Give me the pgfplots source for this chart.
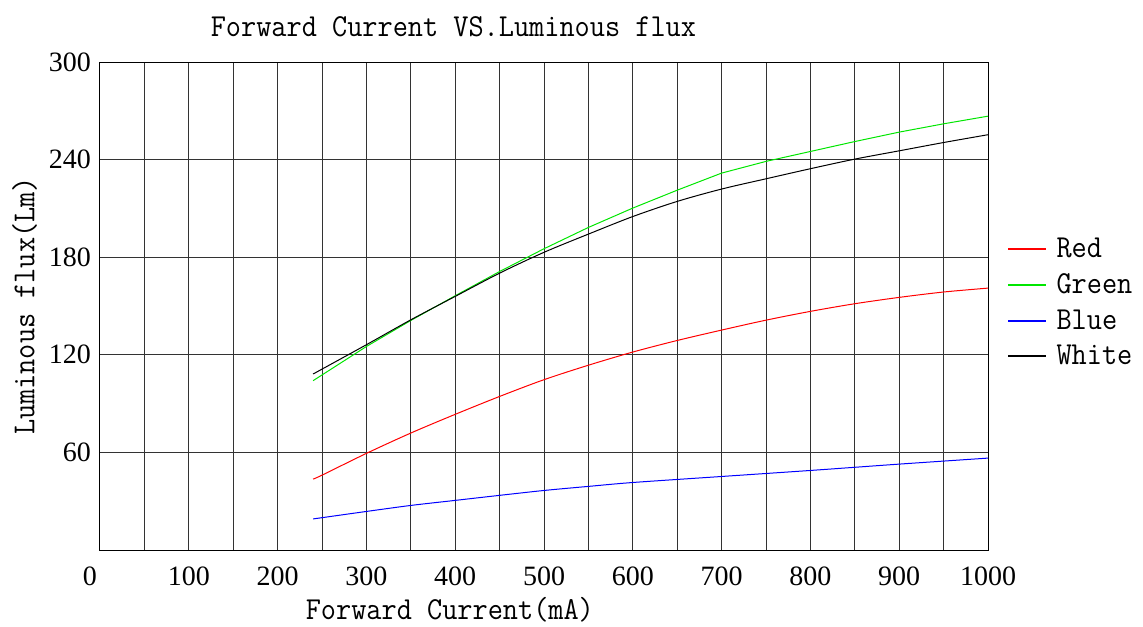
\documentclass[border=0pt]{standalone}
\usepackage{fontspec}
\setmainfont{Liberation Serif}
\newfontfamily\lmm{Latin Modern Mono}[FakeStretch=0.92]
\usepackage{pgfplots}
\pgfplotsset{compat=1.18}
\definecolor{cRed}{RGB}{255,0,0}
\definecolor{cGreen}{RGB}{0,230,0}
\definecolor{cBlue}{RGB}{0,0,255}
\begin{document}
\begin{tikzpicture}
\begin{axis}[
  name=ax,
  scale only axis,
  width=444pt, height=244pt,
  xmin=0, xmax=1000, ymin=0, ymax=300,
  xtick={0,100,...,1000},
  xticklabels={\hspace*{-10pt}0,100,200,300,400,500,600,700,800,900,1000},
  minor xtick={50,150,...,950},
  ytick={60,120,...,300},
  grid=both,
  major grid style={black!80, line width=0.5pt},
  minor grid style={black!80, line width=0.5pt},
  axis line style={black, line width=0.5pt},
  tick style={draw=none},
  /pgf/number format/assume math mode=true,
  /pgf/number format/1000 sep={},
  ticklabel style={font=\fontsize{14}{15}\selectfont},
  xticklabel style={yshift=-5pt},
  yticklabel style={xshift=-1pt},
  xlabel={Forward Current(mA)},
  ylabel={Luminous flux(Lm)},
  xlabel style={font=\lmm\fontsize{16}{17}\selectfont, at={(rel axis cs:0.394,0)}, anchor=north, yshift=-20pt},
  ylabel style={font=\lmm\fontsize{16}{17}\selectfont, at={(rel axis cs:0,0.5)}, anchor=south, yshift=28pt},
  title={Forward Current VS.Luminous flux},
  title style={font=\lmm\fontsize{16}{17}\selectfont, at={(rel axis cs:0.398,1)}, anchor=south, yshift=3pt},
  legend style={draw=none, fill=none, at={(rel axis cs:1.021,0.648)}, anchor=north west,
    font=\lmm\fontsize{16}{17}\selectfont, row sep=2.5pt, inner sep=0pt},
  legend cell align=left,
  legend image code/.code={\draw[#1, line width=1pt] (0pt,0pt) -- (19pt,0pt); \path (22pt,0pt);},
]
\addplot[cRed, line width=0.5pt, smooth] coordinates {
(240,43.6)(250,46)(300,59.4)(350,71.9)(400,83.4)(450,94.4)(500,104.7)(550,113.6)(600,121.7)(650,128.8)(700,135.2)(750,141.3)(800,146.7)(850,151.4)(900,155.3)(950,158.6)(1000,161.0)};
\addlegendentry{Red}
\addplot[cGreen, line width=0.5pt] coordinates {
(240,104.1)(300,125.1)(350,141.1)(400,156.3)(450,171.2)(500,185.2)(550,198.3)(600,210.2)(650,221.2)(700,231.7)(750,238.9)(800,245.0)(850,251.1)(900,256.9)(950,262.0)(1000,266.7)};
\addlegendentry{Green}
\addplot[cBlue, line width=0.5pt, smooth] coordinates {
(240,19.1)(300,23.7)(350,27.4)(400,30.5)(450,33.6)(500,36.6)(550,39.1)(600,41.5)(700,45.2)(800,48.9)(900,52.8)(1000,56.5)};
\addlegendentry{Blue}
\addplot[black, line width=0.5pt, smooth] coordinates {
(240,108.2)(300,126.2)(350,141.5)(400,155.9)(450,170.2)(500,183.0)(550,194.2)(600,205.0)(650,214.3)(700,221.9)(750,228.2)(800,234.4)(850,240.3)(900,245.4)(950,250.5)(1000,255.3)};
\addlegendentry{White}
\end{axis}
\pgfresetboundingbox
\useasboundingbox ([shift={(-50pt,-38pt)}]ax.south west) rectangle ([shift={(77.5pt,31pt)}]ax.north east);
\end{tikzpicture}
\end{document}
